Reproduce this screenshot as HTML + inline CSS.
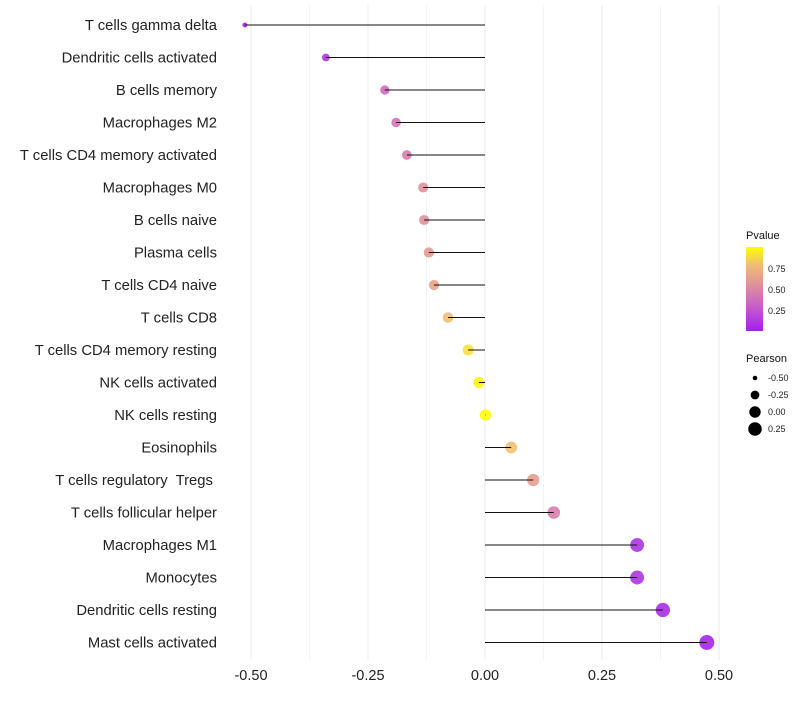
<!DOCTYPE html>
<html><head><meta charset="utf-8"><style>
body{margin:0;background:#fff;font-family:"Liberation Sans",sans-serif}
svg text{font-family:"Liberation Sans",sans-serif;white-space:pre}
</style></head><body>
<svg id="chart" width="800" height="700" viewBox="0 0 800 700">
<defs><linearGradient id="pg" x1="0" y1="1" x2="0" y2="0">
<stop offset="0" stop-color="#a020f0"/><stop offset="0.3" stop-color="#c860c8"/><stop offset="0.55" stop-color="#e0909a"/><stop offset="0.8" stop-color="#f2c070"/><stop offset="1" stop-color="#ffff00"/></linearGradient></defs>
<g id="grid"></g>
<g id="marks"></g>
<g id="ylab"></g>
<g id="xlab"></g>
<g>
<text x="746" y="239" font-size="11" fill="#111">Pvalue</text>
<rect x="746" y="247" width="17" height="84" fill="url(#pg)"/>
<text x="768" y="272" font-size="9" fill="#222">0.75</text>
<text x="768" y="293" font-size="9" fill="#222">0.50</text>
<text x="768" y="314" font-size="9" fill="#222">0.25</text>
</g>
<g id="sizeleg">
<text x="746" y="362" font-size="11" fill="#111">Pearson</text>
</g>
</svg>
<script>
const cells=["T cells gamma delta","Dendritic cells activated","B cells memory","Macrophages M2","T cells CD4 memory activated","Macrophages M0","B cells naive","Plasma cells","T cells CD4 naive","T cells CD8","T cells CD4 memory resting","NK cells activated","NK cells resting","Eosinophils","T cells regulatory  Tregs ","T cells follicular helper","Macrophages M1","Monocytes","Dendritic cells resting","Mast cells activated"];
const pearson=[-0.513,-0.340,-0.214,-0.190,-0.167,-0.132,-0.130,-0.120,-0.109,-0.079,-0.036,-0.013,0.001,0.056,0.103,0.147,0.325,0.325,0.380,0.474];
const pvalue=[0.03,0.1,0.35,0.4,0.45,0.55,0.55,0.6,0.65,0.78,0.9,0.97,1.0,0.8,0.62,0.45,0.1,0.1,0.06,0.03];
const xTicks=[-0.5,-0.25,0,0.25,0.5];
const xTickLabels=["-0.50","-0.25","0.00","0.25","0.50"];
const sizeLegend=[-0.5,-0.25,0,0.25];
const ns="http://www.w3.org/2000/svg";
const X=v=>485+v*468;
const Y=i=>25+i*32.5;
const R=p=>Math.sqrt(Math.max(1,32.1+50.4*p));
const RL=p=>Math.sqrt(Math.max(1,29.3+50.7*p));
function mk(t,a,parent){const e=document.createElementNS(ns,t);for(const k in a)e.setAttribute(k,a[k]);document.getElementById(parent).appendChild(e);return e;}
const stops=[[0,[160,32,240]],[0.3,[200,96,200]],[0.55,[224,144,154]],[0.8,[242,192,112]],[1,[255,255,0]]];
function col(p){for(let i=1;i<stops.length;i++){if(p<=stops[i][0]){const a=stops[i-1],b=stops[i],t=(p-a[0])/(b[0]-a[0]);return "rgb("+a[1].map((c,j)=>Math.round(c+(b[1][j]-c)*t)).join(",")+")";}}return "rgb(255,255,0)";}
for(let v=-0.5;v<=0.501;v+=0.125){
const g=mk("line",{x1:X(v),x2:X(v),y1:5,y2:660,stroke:Math.abs((v*4)%1)<1e-6?"#ebebeb":"#f4f4f4","stroke-width":1},"grid");

}
xTicks.forEach((v,i)=>{const t=mk("text",{x:X(v),y:680,"font-size":14.5,"text-anchor":"middle",fill:"#222"},"xlab");t.textContent=xTickLabels[i];

});
cells.forEach((c,i)=>{
const t=mk("text",{x:217,y:Y(i)+5,"font-size":14.8,"text-anchor":"end",fill:"#222"},"ylab");t.textContent=c;


const p=mk("circle",{cx:X(pearson[i]),cy:Y(i),r:R(pearson[i]),fill:col(pvalue[i]),"fill-opacity":0.9},"marks");


const l=mk("line",{x1:X(0),x2:X(pearson[i]),y1:Y(i),y2:Y(i),stroke:"#111","stroke-width":1},"marks");


});
sizeLegend.forEach((v,i)=>{const y=378+i*17;
const c=mk("circle",{cx:755,cy:y,r:RL(v)+0.3,fill:"#000"},"sizeleg");


const t=mk("text",{x:768,y:y+3,"font-size":9,fill:"#222"},"sizeleg");t.textContent=v.toFixed(2);

});
</script>
</body></html>
